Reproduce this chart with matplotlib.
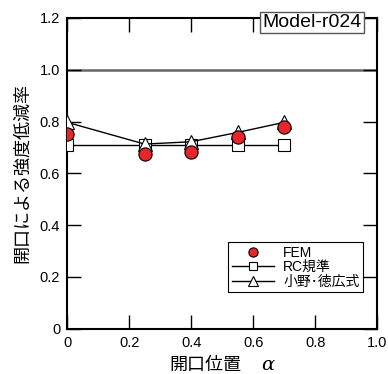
import numpy as np
import matplotlib.pyplot as plt

plt.rcParams['font.family'] = ['Liberation Sans', 'Noto Sans CJK JP', 'DejaVu Sans']

# opening position alpha
alpha = [0, 0.25, 0.4, 0.55, 0.7]
fem = [0.753, 0.676, 0.683, 0.740, 0.780]
rc = [0.710, 0.710, 0.710, 0.710, 0.710]
ono = [0.797, 0.713, 0.722, 0.758, 0.797]

fig = plt.figure(figsize=(3.88, 3.74), dpi=100)
ax = fig.add_axes([0.173, 0.121, 0.799, 0.831])

ax.axhline(1.0, color='#666666', lw=1.8, zorder=1)
ax.plot(alpha, rc, color='black', lw=1, marker='s', ms=8.5, mfc='white', mec='black',
        mew=0.8, label='RC規準', zorder=3)
ax.plot(alpha, ono, color='black', lw=1, marker='^', ms=10, mfc='white', mec='black',
        mew=0.8, label='小野･徳広式', zorder=4)
ax.plot(alpha, fem, ls='none', marker='o', ms=9.5, mfc='#e8262a', mec='black',
        mew=0.8, label='FEM', zorder=5)

ax.set_xlim(0, 1.0)
ax.set_ylim(0, 1.2)
ax.set_xticks([0, 0.2, 0.4, 0.6, 0.8, 1.0])
ax.set_xticklabels(['0', '0.2', '0.4', '0.6', '0.8', '1.0'])
ax.set_yticks([0, 0.2, 0.4, 0.6, 0.8, 1.0, 1.2])
ax.set_yticklabels(['0', '0.2', '0.4', '0.6', '0.8', '1.0', '1.2'])
ax.tick_params(direction='in', length=10, width=1, top=True, right=True, labelsize=10.5, pad=5)
for s in ax.spines.values():
    s.set_linewidth(1.5)

ax.set_ylabel('開口による強度低減率', fontsize=13, labelpad=6)
# x label: Japanese text plus italic alpha
ax.text(0.445, -0.118, '開口位置', transform=ax.transAxes, ha='center', va='center', fontsize=13)
ax.text(0.648, -0.118, 'α', transform=ax.transAxes, ha='center', va='center', fontsize=14,
        style='italic', family='DejaVu Serif')

handles, labels = ax.get_legend_handles_labels()
order = [2, 0, 1]
leg = ax.legend([handles[i] for i in order], [labels[i] for i in order],
                loc='lower right', bbox_to_anchor=(0.955, 0.117), fontsize=10,
                frameon=True, fancybox=False, edgecolor='black', framealpha=1,
                handlelength=3.0, borderpad=0.25, labelspacing=0.05, handletextpad=0.7,
                markerscale=0.7, borderaxespad=0)
leg.get_frame().set_linewidth(0.8)

ax.text(0.95, 0.985, 'Model-r024', transform=ax.transAxes, ha='right', va='center',
        fontsize=14, zorder=10,
        bbox=dict(boxstyle='square,pad=0.1', fc='white', ec='#555555', lw=1))

fig.savefig('out.png', dpi=100)
